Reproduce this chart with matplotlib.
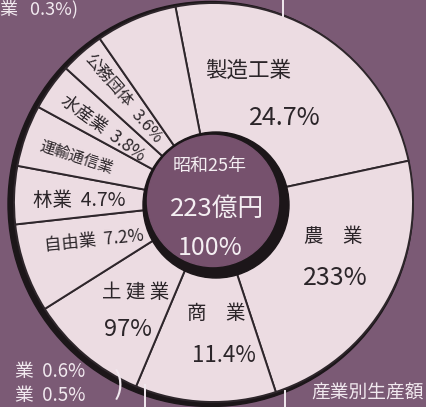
import matplotlib.pyplot as plt
from matplotlib.patches import Circle

plt.rcParams['font.family'] = ['Noto Sans CJK JP', 'DejaVu Sans']

# 昭和25年 産業別生産額 (%), clockwise from 製造工業; the last slice is left blank
industries = ['製造工業', '農業', '商業', '土建業', '自由業', '林業',
              '運輸通信業', '水産業', '公務団体', 'その他']
shares = [24.7, 23.3, 11.4, 9.7, 7.2, 4.7, 5.0, 3.8, 3.6, 6.6]
total_label = ['昭和25年', '223億円', '100%']
minor_notes = [('業', '0.3%'), ('業', '0.6%'), ('業', '0.5%')]

W, H = 426, 407
bg = '#7b5a75'
pink = '#ecdce2'
ink = '#2b2529'

fig = plt.figure(figsize=(W / 100, H / 100), dpi=100, facecolor=bg)
ax = fig.add_axes([0, 0, 1, 1])
ax.set_facecolor(bg)


def px(x, y):
    # picture-style coords (y down) -> axes data
    return x, H - y


cx, cy = px(213.5, 202.5)

# dark rim behind the disc, heavier on the lower left
ax.add_patch(Circle(px(210.5, 204), 202.5, color='#1c1619', zorder=1))

ax.pie(shares, radius=199.5, center=(cx, cy), startangle=101, counterclock=False,
       colors=[pink] * len(shares),
       wedgeprops=dict(edgecolor='#2e262b', linewidth=1.4, zorder=2))

# hub
ax.add_patch(Circle(px(216, 205), 73, color='#1c1619', zorder=3))
ax.add_patch(Circle(px(213, 201), 65.5, color='#76516d', zorder=4))

ax.set_xlim(0, W)
ax.set_ylim(0, H)
ax.set_aspect('auto')
ax.axis('off')


def label(x, y, s, size, rot=0, color=ink, **kw):
    ax.text(*px(x, y), s, fontsize=size, rotation=rot, color=color,
            ha=kw.pop('ha', 'center'), va='center', zorder=6,
            rotation_mode='anchor', **kw)


label(248, 71, industries[0], 15.5)
label(285, 118, f'{shares[0]}%', 18)
label(333, 236, '農　業', 14)
label(335, 278, f'{shares[1]:g}%'.replace('.', ''), 18, style='italic')
label(216, 313, '商　業', 14)
label(224, 355, f'{shares[2]}%', 16)
label(136, 292, '土 建 業', 14)
label(128, 329, f'{shares[3]:g}%'.replace('.', ''), 17)
label(94, 241, f'{industries[4]}  {shares[4]}%', 12.5, rot=6)
label(79, 201, f'{industries[5]}  {shares[5]}%', 14)
label(76, 157, industries[6], 11, rot=-18)
label(103, 128, f'{industries[7]}  {shares[7]}%', 12.5, rot=-36)
label(108, 81, industries[8], 11.5, rot=-49)
label(147, 127, f'{shares[8]}%', 12, rot=-49)

label(210, 166, total_label[0], 13, color='#f4eef2')
label(217, 209, total_label[1], 18.5, color='#f4eef2')
label(210, 248, total_label[2], 18, color='#f4eef2')

# side notes for the smaller industries
white = '#f1e9ef'
label(0, 9, f'{minor_notes[0][0]}   {minor_notes[0][1]})', 13, color=white, ha='left')
label(15, 371, f'{minor_notes[1][0]}  {minor_notes[1][1]}', 13.5, color=white, ha='left')
label(15, 396, f'{minor_notes[2][0]}  {minor_notes[2][1]}', 13.5, color=white, ha='left')
label(114, 386, ')', 22, color=white, ha='left')
label(311, 393, '産業別生産額', 13.5, color=white, ha='left')

for x, y0, y1 in [(145, 385, 407), (285, 391, 407), (283, 0, 16)]:
    ax.plot(*zip(px(x, y0), px(x, y1)), color=white, lw=1.4, zorder=6)

fig.savefig('out.png', dpi=100, facecolor=bg)
